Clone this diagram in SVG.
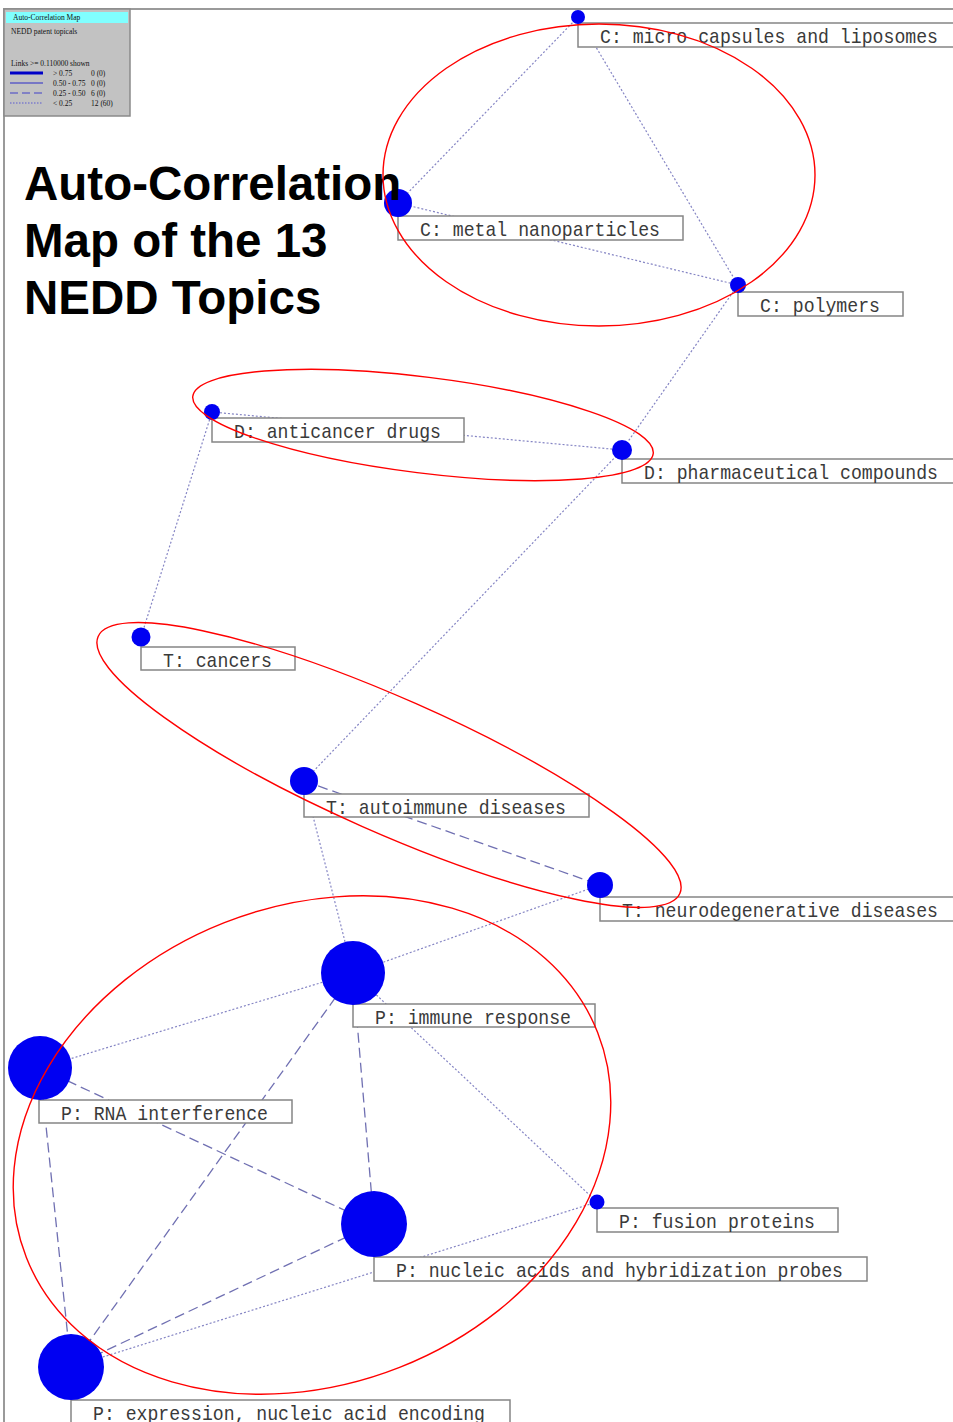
<svg xmlns="http://www.w3.org/2000/svg" width="953" height="1422" viewBox="0 0 953 1422">
  <style>
    .frame { fill: none; stroke: #9a9a9a; stroke-width: 2; }
    .leg-txt { font-family: "Liberation Serif", serif; font-size: 7.5px; fill: #111; }
    .weak { stroke: #8585c4; stroke-width: 1.2; stroke-dasharray: 2 2; fill: none; }
    .mid { stroke: #7070b2; stroke-width: 1.3; stroke-dasharray: 10 5; fill: none; }
    .box { fill: #ffffff; stroke: #858585; stroke-width: 1.5; }
    .lbl { font-family: "Liberation Mono", monospace; font-size: 21px; fill: #3a3a3a; }
    .dot { fill: #0000f2; }
    .title { font-family: "Liberation Sans", Arial, sans-serif; font-weight: bold; font-size: 47.5px; fill: #000; }
    .cluster { fill: none; stroke: #ff0000; stroke-width: 1.4; }
  </style>

  <!-- outer frame -->
  <rect class="frame" x="4" y="9" width="960" height="1420"/>

  <!-- legend -->
  <g id="legend">
    <rect x="4" y="9" width="126" height="107" fill="#c2c2c2" stroke="#8a8a8a" stroke-width="1.5"/>
    <rect x="6" y="12" width="122" height="11" fill="#80ffff"/>
    <text class="leg-txt" x="13" y="20">Auto-Correlation Map</text>
    <text class="leg-txt" x="11" y="34">NEDD patent topicals</text>
    <text class="leg-txt" x="11" y="66">Links &gt;= 0.110000 shown</text>
    <line x1="10" y1="73" x2="43" y2="73" stroke="#0000c8" stroke-width="3"/>
    <text class="leg-txt" x="53" y="75.5">&gt; 0.75</text>
    <text class="leg-txt" x="91" y="75.5">0 (0)</text>
    <line x1="10" y1="83" x2="43" y2="83" stroke="#2a2ac8" stroke-width="1"/>
    <text class="leg-txt" x="53" y="85.5">0.50 - 0.75</text>
    <text class="leg-txt" x="91" y="85.5">0 (0)</text>
    <line x1="10" y1="93" x2="43" y2="93" stroke="#4040c8" stroke-width="1" stroke-dasharray="8 4"/>
    <text class="leg-txt" x="53" y="95.5">0.25 - 0.50</text>
    <text class="leg-txt" x="91" y="95.5">6 (0)</text>
    <line x1="10" y1="103" x2="43" y2="103" stroke="#5a5ad0" stroke-width="1" stroke-dasharray="1.5 1.5"/>
    <text class="leg-txt" x="53" y="105.5">&lt; 0.25</text>
    <text class="leg-txt" x="91" y="105.5">12 (60)</text>
  </g>

  <!-- links between topics -->
  <g id="connectors">
    <line class="weak" x1="578" y1="17" x2="398" y2="203"/>
    <line class="weak" x1="578" y1="17" x2="738" y2="285"/>
    <line class="weak" x1="398" y1="203" x2="738" y2="285"/>
    <line class="weak" x1="738" y1="285" x2="622" y2="450"/>
    <line class="weak" x1="212" y1="412" x2="622" y2="450"/>
    <line class="weak" x1="212" y1="412" x2="141" y2="637"/>
    <line class="weak" x1="622" y1="450" x2="304" y2="781"/>
    <line class="mid" x1="304" y1="781" x2="600" y2="885"/>
    <line class="weak" x1="304" y1="781" x2="353" y2="973"/>
    <line class="weak" x1="600" y1="885" x2="353" y2="973"/>
    <line class="weak" x1="353" y1="973" x2="40" y2="1068"/>
    <line class="mid" x1="353" y1="973" x2="71" y2="1367"/>
    <line class="mid" x1="353" y1="973" x2="374" y2="1224"/>
    <line class="weak" x1="353" y1="973" x2="597" y2="1202"/>
    <line class="mid" x1="40" y1="1068" x2="374" y2="1224"/>
    <line class="mid" x1="40" y1="1068" x2="71" y2="1367"/>
    <line class="mid" x1="374" y1="1224" x2="71" y2="1367"/>
    <line class="weak" x1="597" y1="1202" x2="71" y2="1367"/>
  </g>

  <!-- topic nodes -->
  <g id="node-micro-capsules">
    <rect class="box" x="578" y="23" width="383" height="24"/>
    <text class="lbl" x="600" y="42.5" textLength="338" lengthAdjust="spacingAndGlyphs">C: micro capsules and liposomes</text>
    <circle class="dot" cx="578" cy="17" r="7"/>
  </g>
  <g id="node-metal-nanoparticles">
    <rect class="box" x="398" y="216" width="285" height="24"/>
    <text class="lbl" x="420" y="235.5" textLength="240" lengthAdjust="spacingAndGlyphs">C: metal nanoparticles</text>
    <circle class="dot" cx="398" cy="203" r="14"/>
  </g>
  <g id="node-polymers">
    <rect class="box" x="738" y="292" width="165" height="24"/>
    <text class="lbl" x="760" y="311.5" textLength="120" lengthAdjust="spacingAndGlyphs">C: polymers</text>
    <circle class="dot" cx="738" cy="285" r="8"/>
  </g>
  <g id="node-anticancer-drugs">
    <rect class="box" x="212" y="418" width="252" height="24"/>
    <text class="lbl" x="234" y="437.5" textLength="207" lengthAdjust="spacingAndGlyphs">D: anticancer drugs</text>
    <circle class="dot" cx="212" cy="412" r="8"/>
  </g>
  <g id="node-pharmaceutical-compounds">
    <rect class="box" x="622" y="459" width="339" height="24"/>
    <text class="lbl" x="644" y="478.5" textLength="294" lengthAdjust="spacingAndGlyphs">D: pharmaceutical compounds</text>
    <circle class="dot" cx="622" cy="450" r="10"/>
  </g>
  <g id="node-cancers">
    <rect class="box" x="141" y="647" width="154" height="23"/>
    <text class="lbl" x="163" y="666.5" textLength="109" lengthAdjust="spacingAndGlyphs">T: cancers</text>
    <circle class="dot" cx="141" cy="637" r="9.5"/>
  </g>
  <g id="node-autoimmune-diseases">
    <rect class="box" x="304" y="794" width="285" height="23"/>
    <text class="lbl" x="326" y="813.5" textLength="240" lengthAdjust="spacingAndGlyphs">T: autoimmune diseases</text>
    <circle class="dot" cx="304" cy="781" r="14"/>
  </g>
  <g id="node-neurodegenerative-diseases">
    <rect class="box" x="600" y="897" width="361" height="24"/>
    <text class="lbl" x="622" y="916.5" textLength="316" lengthAdjust="spacingAndGlyphs">T: neurodegenerative diseases</text>
    <circle class="dot" cx="600" cy="885" r="13"/>
  </g>
  <g id="node-immune-response">
    <rect class="box" x="353" y="1004" width="242" height="23"/>
    <text class="lbl" x="375" y="1023.5" textLength="196" lengthAdjust="spacingAndGlyphs">P: immune response</text>
    <circle class="dot" cx="353" cy="973" r="32"/>
  </g>
  <g id="node-rna-interference">
    <rect class="box" x="39" y="1100" width="253" height="23"/>
    <text class="lbl" x="61" y="1119.5" textLength="207" lengthAdjust="spacingAndGlyphs">P: RNA interference</text>
    <circle class="dot" cx="40" cy="1068" r="32"/>
  </g>
  <g id="node-fusion-proteins">
    <rect class="box" x="597" y="1208" width="241" height="24"/>
    <text class="lbl" x="619" y="1227.5" textLength="196" lengthAdjust="spacingAndGlyphs">P: fusion proteins</text>
    <circle class="dot" cx="597" cy="1202" r="7.5"/>
  </g>
  <g id="node-nucleic-acids">
    <rect class="box" x="374" y="1257" width="493" height="24"/>
    <text class="lbl" x="396" y="1276.5" textLength="447" lengthAdjust="spacingAndGlyphs">P: nucleic acids and hybridization probes</text>
    <circle class="dot" cx="374" cy="1224" r="33"/>
  </g>
  <g id="node-expression">
    <rect class="box" x="71" y="1400" width="439" height="30"/>
    <text class="lbl" x="93" y="1419.5" textLength="392" lengthAdjust="spacingAndGlyphs">P: expression, nucleic acid encoding</text>
    <circle class="dot" cx="71" cy="1367" r="33"/>
  </g>

  <!-- heading -->
  <g id="title">
    <text class="title" x="24" y="200">Auto-Correlation</text>
    <text class="title" x="24" y="257">Map of the 13</text>
    <text class="title" x="24" y="314">NEDD Topics</text>
  </g>

  <!-- topic clusters -->
  <g id="clusters">
    <ellipse class="cluster" cx="599" cy="175" rx="216" ry="151"/>
    <ellipse class="cluster" cx="423" cy="425" rx="232" ry="48" transform="rotate(7.1 423 425)"/>
    <ellipse class="cluster" cx="389" cy="765" rx="318" ry="67" transform="rotate(23.85 389 765)"/>
    <ellipse class="cluster" cx="312" cy="1145" rx="307" ry="239" transform="rotate(-21.5 312 1145)"/>
  </g>
</svg>
